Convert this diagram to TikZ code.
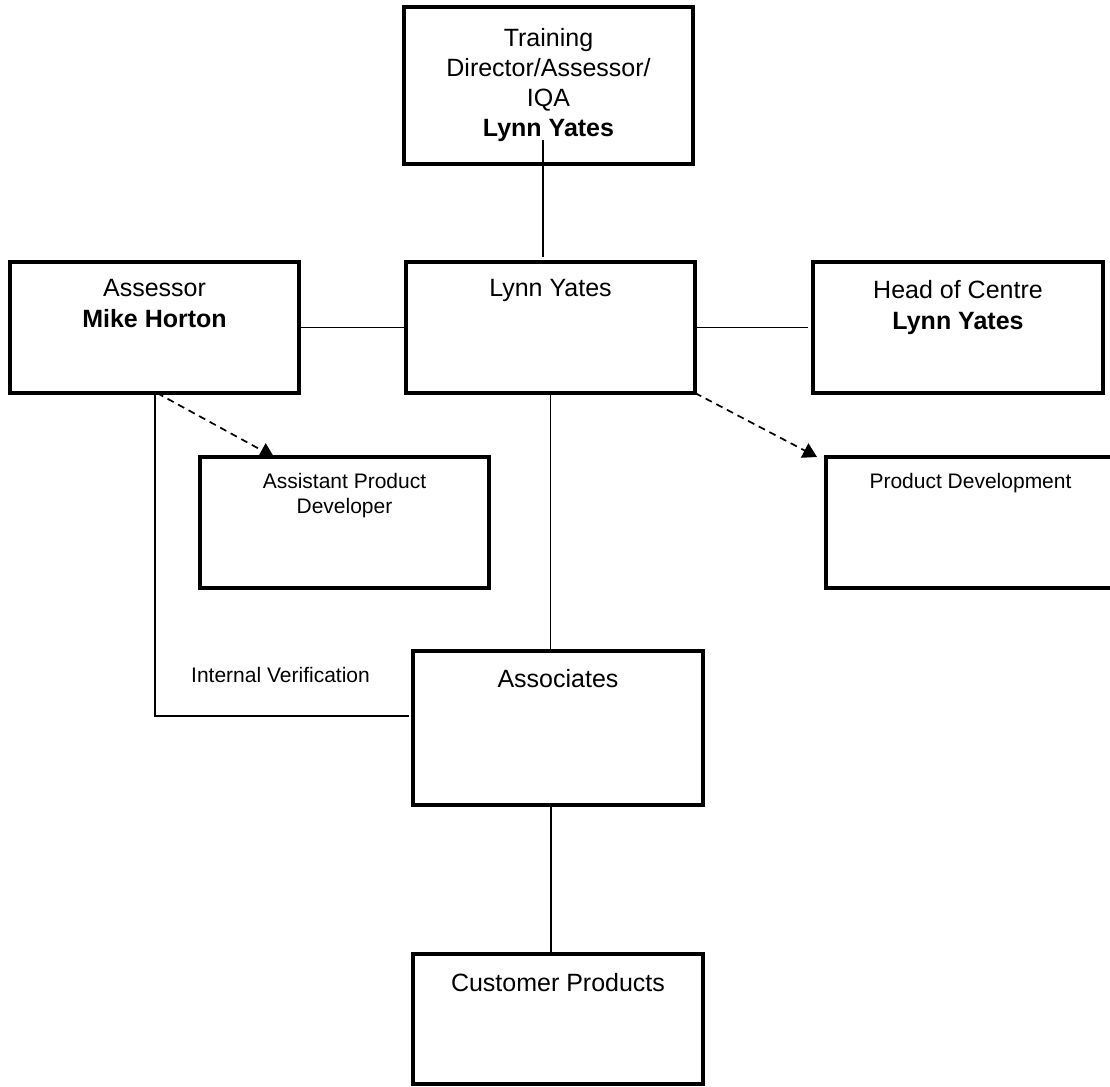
\documentclass[tikz,border=0pt]{standalone}
\usepackage{fontspec}
\setmainfont{Liberation Sans}
\usetikzlibrary{arrows.meta}
\newcommand{\bigfont}{\fontsize{25}{31}\selectfont}
\newcommand{\smallfont}{\fontsize{21}{25}\selectfont}

\begin{document}
\begin{tikzpicture}[x=1pt,y=-1pt]

\tikzset{role/.style = {draw, line width=3.2pt, anchor=north west, inner sep=0pt, outer sep=0pt, minimum width=289pt, minimum height=131pt}}
\tikzset{roletext/.style = {anchor=north, inner sep=0pt, align=center, font=\bigfont}}
\tikzset{edge/.style = {line width=1.5pt}}
\tikzset{dashedge/.style = {line width=1.7pt, dash pattern=on 7pt off 5pt, -{Triangle[length=14pt,width=16pt]}}}

\useasboundingbox (0,0) rectangle (1110,1086);
%boxes
\node[role, minimum height=157pt, label={[roletext, font=\fontsize{25}{30}\selectfont, yshift=-21pt]north:{Training\\Director/Assessor/\\IQA\\\textbf{Lynn Yates}}}] (director) at (404,7) {};
\node[role, label={[roletext, yshift=-17pt]north:{Assessor\\\textbf{Mike Horton}}}] (assessor) at (10,262) {};
\node[role, label={[roletext, yshift=-17pt]north:{Lynn Yates}}] (lynn) at (406,262) {};
\node[role, minimum width=290pt, label={[roletext, yshift=-18pt]north:{Head of Centre\\\textbf{Lynn Yates}}}] (head) at (813,262) {};
\node[role, label={[roletext, font=\smallfont, yshift=-16pt]north:{Assistant Product\\Developer}}] (apd) at (200,457) {};
\node[role, label={[roletext, font=\smallfont, yshift=-16pt]north:{Product Development}}] (pd) at (826,457) {};
\node[role, minimum width=290pt, minimum height=154pt, label={[roletext, yshift=-18pt]north:{Associates}}] (assoc) at (413,651) {};
\node[role, minimum width=290pt, minimum height=130pt, label={[roletext, yshift=-19pt]north:{Customer Products}}] (cust) at (413,954) {};
\node[font=\smallfont] (ivlabel) at (280.5,675) {Internal Verification};
%edges
\draw[edge] ([xshift=-5.5pt,yshift=24pt]director.south) -- ([xshift=-7.5pt,yshift=5pt]lynn.north);
\draw[edge] (assessor.east) -- (lynn.west);
\draw[edge, shorten >=5pt] (lynn.east) -- (head.west);
\draw[edge] (lynn.south) -- (lynn.south |- assoc.north);
\draw[edge] ([xshift=-7pt]assoc.south) -- ([xshift=-7pt]cust.north);
\coordinate (ivcorner) at (155,716);
\draw[edge, shorten >=4pt] (assessor.south -| ivcorner) -- (ivcorner) -- (assoc.west |- ivcorner);
\draw[dashedge] ([xshift=147pt]assessor.south west) -- ([xshift=74pt]apd.north west);
\draw[dashedge] (lynn.south east) -- ([xshift=-9pt]pd.north west);

\end{tikzpicture}
\end{document}
